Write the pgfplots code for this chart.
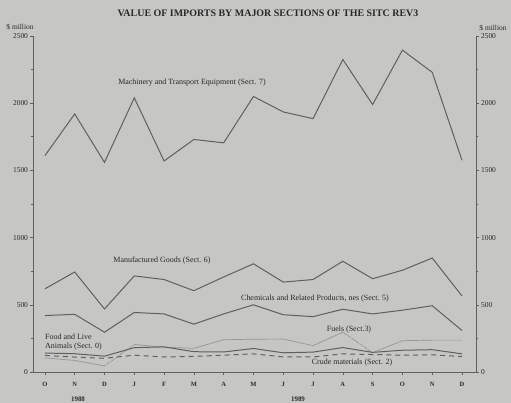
\documentclass[border=0pt]{standalone}
\usepackage{fontspec}
\setmainfont{Liberation Serif}
\usepackage{pgfplots}
\pgfplotsset{compat=1.18}
\definecolor{bg}{RGB}{198,198,196}
\definecolor{ln}{RGB}{95,95,95}
\definecolor{lt}{RGB}{150,150,150}
\definecolor{tx}{RGB}{40,40,40}
\begin{document}
\begin{tikzpicture}
\useasboundingbox (-33bp,-31bp) rectangle (478bp,372bp);
\fill[bg] (-33bp,-31bp) rectangle (478bp,372bp);
\pgfplotsset{
  common/.style={
    scale only axis, width=443bp, height=336bp,
    at={(0,0)}, anchor=south west,
    xmin=-0.4, xmax=14.47, ymin=0, ymax=2500,
    ytick={0,500,...,2500}, minor ytick={250,750,...,2250},
    tick align=outside, major tick length=3bp, minor tick length=2bp,
    tick style={ln, line width=0.6pt},
    axis line style={ln, line width=0.8pt, -},
    ticklabel style={font=\fontsize{7.5}{8}\selectfont, text=tx},
    /pgf/number format/assume math mode=true,
    /pgf/number format/1000 sep={},
    clip=false,
  }
}
\begin{axis}[common,
  axis x line*=bottom, axis y line*=left,
  xtick={0,...,14}, xticklabels={O,N,D,J,F,M,A,M,J,J,A,S,O,N,D},
  x tick label style={font=\bfseries\fontsize{6.5}{7}\selectfont, yshift=-4bp},
  y tick label style={xshift=1.5bp},
]
% Machinery and Transport Equipment (Sect. 7)
\addplot[ln, line width=1pt] coordinates {(0,1610)(1,1920)(2,1560)(3,2040)(4,1570)(5,1730)(6,1705)(7,2050)(8,1935)(9,1885)(10,2325)(11,1990)(12,2395)(13,2230)(14,1575)};
% Manufactured Goods (Sect. 6)
\addplot[ln, line width=1pt] coordinates {(0,619)(1,744)(2,469)(3,715)(4,688)(5,605)(6,707)(7,805)(8,669)(9,688)(10,824)(11,694)(12,757)(13,848)(14,566)};
% Chemicals (Sect. 5)
\addplot[ln, line width=1pt] coordinates {(0,420)(1,429)(2,296)(3,443)(4,432)(5,356)(6,432)(7,500)(8,426)(9,412)(10,467)(11,432)(12,460)(13,493)(14,309)};
% Fuels (Sect. 3)
\addplot[lt, line width=0.7pt] coordinates {(0,105)(1,86)(2,45)};
\addplot[ln, line width=0.6pt, densely dotted] coordinates {(2,45)(3,205)};
\addplot[lt, line width=0.7pt] coordinates {(3,205)(4,185)(5,176)(6,240)(7,244)(8,245)(9,196)(10,296)};
\addplot[ln, line width=0.6pt, densely dotted] coordinates {(10,296)(11,144)};
\addplot[lt, line width=0.7pt] coordinates {(11,144)(12,233)(13,237)(14,237)};
% Food and Live Animals (Sect. 0)
\addplot[ln, line width=1pt] coordinates {(0,141)(1,136)(2,118)(3,181)(4,187)(5,151)(6,149)(7,175)(8,143)(9,148)(10,182)(11,146)(12,162)(13,166)(14,135)};
% Crude materials (Sect. 2)
\addplot[ln, line width=1pt, dash pattern=on 5bp off 4bp] coordinates {(0,123)(1,111)(2,102)(3,125)(4,112)(5,116)(6,125)(7,135)(8,112)(9,112)(10,135)(11,130)(12,125)(13,128)(14,115)};
\end{axis}
\begin{axis}[common,
  axis x line=none, axis y line*=right,
  y tick label style={xshift=-1.5bp},
]
\end{axis}
\begin{scope}[every node/.style={text=tx, inner sep=0pt}]
\node[font=\bfseries\fontsize{10}{11}\selectfont] at (235bp,359bp) {VALUE OF IMPORTS BY MAJOR SECTIONS OF THE SITC REV3};
\node[font=\fontsize{7.5}{8}\selectfont] at (-13bp,345bp) {\$ million};
\node[font=\fontsize{7.5}{8}\selectfont] at (460bp,344bp) {\$ million};
\node[font=\fontsize{8}{9}\selectfont] at (159bp,289bp) {Machinery and Transport Equipment (Sect. 7)};
\node[font=\fontsize{8}{9}\selectfont] at (129bp,111bp) {Manufactured Goods (Sect. 6)};
\node[font=\fontsize{8}{9}\selectfont] at (282bp,73bp) {Chemicals and Related Products, nes (Sect. 5)};
\node[font=\fontsize{8}{9}\selectfont] at (316bp,42bp) {Fuels (Sect.3)};
\node[font=\fontsize{8}{8.5}\selectfont, align=left, anchor=west] at (12bp,30bp) {Food and Live\\Animals (Sect. 0)};
\node[font=\fontsize{8}{9}\selectfont] at (319bp,9bp) {Crude materials (Sect. 2)};
\node[font=\bfseries\fontsize{7}{8}\selectfont] at (45bp,-27bp) {1988};
\node[font=\bfseries\fontsize{7}{8}\selectfont] at (265bp,-27bp) {1989};
\end{scope}
\end{tikzpicture}
\end{document}
